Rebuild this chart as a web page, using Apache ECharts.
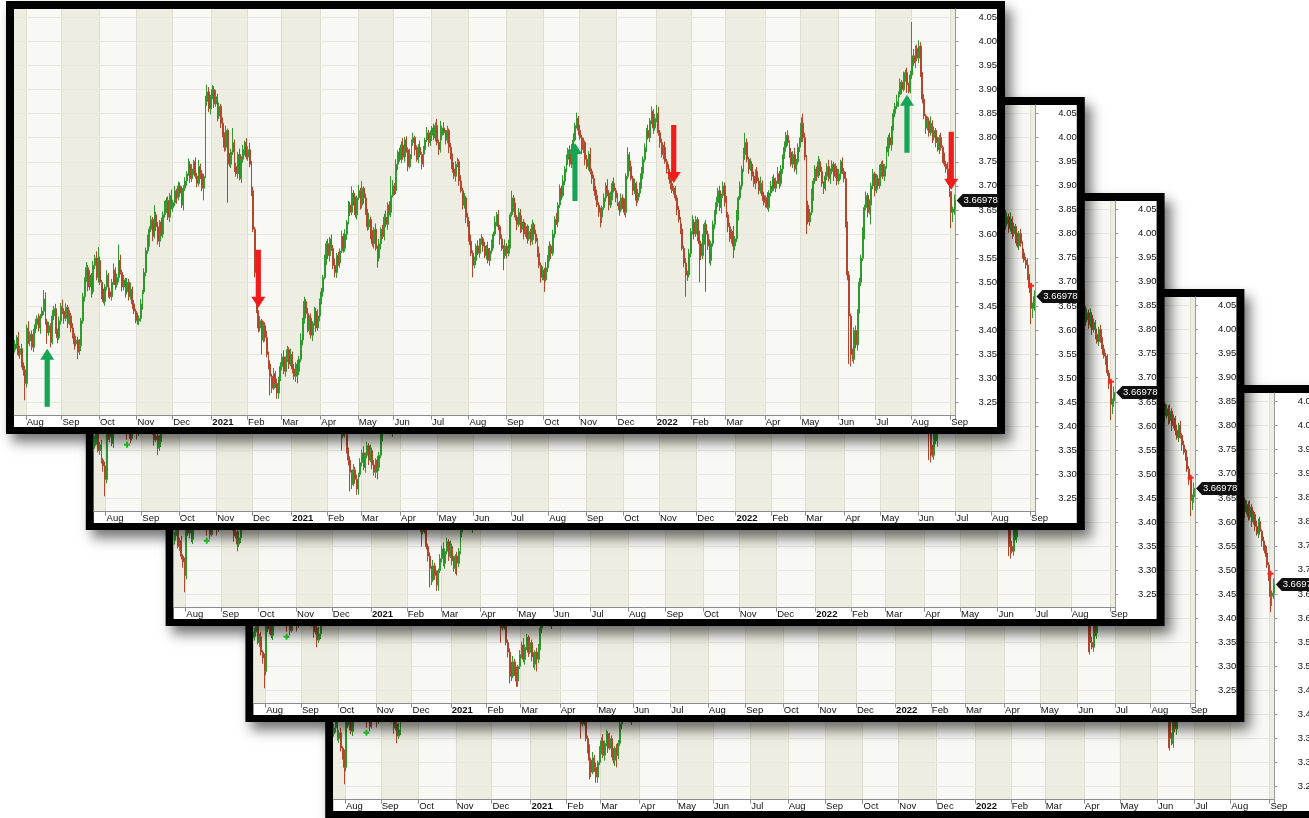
<!DOCTYPE html>
<html><head><meta charset="utf-8">
<script src="https://cdn.jsdelivr.net/npm/echarts@6/dist/echarts.min.js"></script>
<style>html,body{margin:0;padding:0;background:#fff;}#c{width:1309px;height:818px;}</style>
</head><body><div id="c"></div>
<script>
// ---------- DATA ----------
const months = ['2020-07','2020-08','2020-09','2020-10','2020-11','2020-12','2021-01','2021-02','2021-03','2021-04','2021-05','2021-06','2021-07','2021-08','2021-09','2021-10','2021-11','2021-12','2022-01','2022-02','2022-03','2022-04','2022-05','2022-06','2022-07','2022-08','2022-09'];
const monthDays = [7,21,22,22,21,23,21,20,23,22,21,22,22,22,22,21,22,23,21,20,23,21,22,22,21,23,3];
const monthLabels = ['Jul','Aug','Sep','Oct','Nov','Dec','2021','Feb','Mar','Apr','May','Jun','Jul','Aug','Sep','Oct','Nov','Dec','2022','Feb','Mar','Apr','May','Jun','Jul','Aug','Sep'];

// prices in thousandths
const opens = [
3360,3372,3385,3350,3362,3330,3318,
3290,3405,3378,3392,3365,3398,3412,3425,3405,3430,3440,3465,3418,3395,3410,3375,3430,3445,3400,3385,3420,
3450,3440,3425,3448,3415,3430,3405,3390,3372,3380,3355,3368,3420,3470,3505,3530,3490,3515,3480,3535,3550,3510,
3545,3500,3475,3460,3490,3515,3480,3470,3500,3525,3495,3510,3545,3520,3490,3505,3480,3500,3470,3485,3455,3440,
3425,3420,3425,3455,3480,3520,3565,3585,3610,3630,3595,3640,3615,3585,3625,3600,3640,3655,3670,3635,3680,
3655,3665,3690,3675,3700,3685,3660,3695,3710,3725,3745,3715,3735,3750,3720,3705,3740,3725,3695,3720,3875,3895,3860,
3885,3900,3870,3885,3845,3865,3830,3805,3780,3815,3760,3745,3770,3790,3740,3725,3765,3715,3755,3775,3790,
3760,3775,3745,3690,3610,3520,3440,3405,3420,3380,3410,3385,3350,3330,3305,3280,3310,3290,3270,3300,
3325,3345,3315,3340,3360,3330,3350,3320,3305,3330,3315,3340,3380,3420,3460,3435,3400,3425,3390,3415,3440,3405,3430,
3460,3480,3510,3545,3580,3555,3590,3570,3535,3520,3555,3540,3565,3595,3570,3600,3625,3660,3645,3685,3670,3640,
3675,3690,3660,3695,3675,3645,3615,3630,3600,3580,3610,3570,3550,3580,3610,3595,3635,3620,3660,3645,3680,
3700,3690,3745,3770,3755,3785,3760,3795,3775,3740,3765,3790,3800,3775,3755,3780,3765,3745,3775,3795,3810,3790,
3805,3820,3800,3825,3790,3775,3805,3820,3810,3795,3815,3780,3760,3735,3720,3745,3750,3710,3690,3660,3675,3635,
3620,3585,3560,3535,3545,3575,3560,3585,3590,3575,3555,3570,3545,3565,3580,3600,3625,3640,3615,3590,3570,3555,
3575,3560,3580,3640,3675,3655,3635,3620,3645,3610,3625,3600,3615,3590,3605,3585,3620,3600,3585,3560,3535,3510,
3525,3505,3530,3550,3575,3560,3600,3630,3625,3660,3695,3680,3710,3735,3755,3775,3745,3780,3795,3825,3840,
3815,3800,3775,3790,3755,3740,3765,3730,3715,3695,3680,3660,3645,3635,3655,3675,3700,3685,3660,3680,3705,3690,
3675,3665,3650,3675,3660,3645,3720,3765,3740,3715,3690,3705,3670,3685,3700,3725,3755,3780,3815,3800,3835,3855,3820,
3840,3850,3810,3790,3765,3780,3750,3735,3720,3705,3690,3695,3675,3650,3630,3610,3570,3540,3520,3515,3560,
3605,3625,3600,3630,3595,3580,3555,3590,3620,3600,3575,3545,3580,3620,3645,3665,3690,3655,3680,3700,
3665,3640,3615,3590,3605,3575,3590,3640,3675,3700,3735,3765,3790,3755,3735,3745,3720,3705,3730,3710,3690,3705,3680,
3665,3675,3655,3685,3700,3715,3695,3710,3725,3705,3735,3760,3780,3805,3790,3770,3745,3765,3735,3750,3780,
3795,3830,3800,3760,3660,3625,3645,3680,3710,3735,3720,3750,3730,3705,3695,3720,3740,3715,3730,3745,3720,3735,
3710,3725,3750,3730,3715,3620,3515,3430,3350,3340,3400,3370,3440,3500,3550,3600,3655,3680,3645,3660,3700,3725,
3690,3715,3700,3730,3745,3720,3740,3770,3800,3785,3820,3850,3865,3875,3890,3915,3900,3925,3935,3910,3895,
3930,3970,3955,3985,3965,3990,3930,3880,3845,3820,3835,3810,3830,3800,3815,3790,3775,3800,3780,3760,3745,3735,3710,
3688,3645,3652
];
const closes = [
3372,3385,3350,3362,3330,3318,3290,
3405,3378,3392,3365,3398,3412,3425,3405,3430,3440,3465,3418,3395,3410,3375,3430,3445,3400,3385,3420,3450,
3440,3425,3448,3415,3430,3405,3390,3372,3380,3355,3368,3420,3470,3505,3530,3490,3515,3480,3535,3550,3510,3545,
3500,3475,3460,3490,3515,3480,3470,3500,3525,3495,3510,3545,3520,3490,3505,3480,3500,3470,3485,3455,3440,3425,
3420,3425,3455,3480,3520,3565,3585,3610,3630,3595,3640,3615,3585,3625,3600,3640,3655,3670,3635,3680,3655,
3665,3690,3675,3700,3685,3660,3695,3710,3725,3745,3715,3735,3750,3720,3705,3740,3725,3695,3720,3875,3895,3860,3885,
3900,3870,3885,3845,3865,3830,3805,3780,3815,3760,3745,3770,3790,3740,3725,3765,3715,3755,3775,3790,3760,
3775,3745,3690,3610,3520,3440,3405,3420,3380,3410,3385,3350,3330,3305,3280,3310,3290,3270,3300,3325,
3345,3315,3340,3360,3330,3350,3320,3305,3330,3315,3340,3380,3420,3460,3435,3400,3425,3390,3415,3440,3405,3430,3460,
3480,3510,3545,3580,3555,3590,3570,3535,3520,3555,3540,3565,3595,3570,3600,3625,3660,3645,3685,3670,3640,3675,
3690,3660,3695,3675,3645,3615,3630,3600,3580,3610,3570,3550,3580,3610,3595,3635,3620,3660,3645,3680,3700,
3690,3745,3770,3755,3785,3760,3795,3775,3740,3765,3790,3800,3775,3755,3780,3765,3745,3775,3795,3810,3790,3805,
3820,3800,3825,3790,3775,3805,3820,3810,3795,3815,3780,3760,3735,3720,3745,3750,3710,3690,3660,3675,3635,3620,
3585,3560,3535,3545,3575,3560,3585,3590,3575,3555,3570,3545,3565,3580,3600,3625,3640,3615,3590,3570,3555,3575,
3560,3580,3640,3675,3655,3635,3620,3645,3610,3625,3600,3615,3590,3605,3585,3620,3600,3585,3560,3535,3510,3525,
3505,3530,3550,3575,3560,3600,3630,3625,3660,3695,3680,3710,3735,3755,3775,3745,3780,3795,3825,3840,3815,
3800,3775,3790,3755,3740,3765,3730,3715,3695,3680,3660,3645,3635,3655,3675,3700,3685,3660,3680,3705,3690,3675,
3665,3650,3675,3660,3645,3720,3765,3740,3715,3690,3705,3670,3685,3700,3725,3755,3780,3815,3800,3835,3855,3820,3840,
3850,3810,3790,3765,3780,3750,3735,3720,3705,3690,3695,3675,3650,3630,3610,3570,3540,3520,3515,3560,3605,
3625,3600,3630,3595,3580,3555,3590,3620,3600,3575,3545,3580,3620,3645,3665,3690,3655,3680,3700,3665,
3640,3615,3590,3605,3575,3590,3640,3675,3700,3735,3765,3790,3755,3735,3745,3720,3705,3730,3710,3690,3705,3680,3665,
3675,3655,3685,3700,3715,3695,3710,3725,3705,3735,3760,3780,3805,3790,3770,3745,3765,3735,3750,3780,3795,
3830,3800,3760,3660,3625,3645,3680,3710,3735,3720,3750,3730,3705,3695,3720,3740,3715,3730,3745,3720,3735,3710,
3725,3750,3730,3715,3620,3515,3430,3350,3340,3400,3370,3440,3500,3550,3600,3655,3680,3645,3660,3700,3725,3690,
3715,3700,3730,3745,3720,3740,3770,3800,3785,3820,3850,3865,3875,3890,3915,3900,3925,3935,3910,3895,3930,
3970,3955,3985,3965,3990,3930,3880,3845,3820,3835,3810,3830,3800,3815,3790,3775,3800,3780,3760,3745,3735,3710,3688,
3645,3652,3669.78
];
const lows = [
3354,3362,3346,3341,3323,3306,3255,
3282,3372,3367,3359,3355,3394,3403,3398,3393,3425,3432,3412,3372,3389,3365,3371,3421,3393,3373,3380,3412,
3434,3414,3419,3405,3411,3396,3383,3360,3367,3340,3349,3357,3414,3460,3501,3481,3483,3468,3475,3527,3504,3499,
3494,3465,3456,3451,3483,3468,3465,3462,3494,3484,3489,3500,3516,3481,3483,3468,3475,3462,3464,3444,3434,3415,
3412,3411,3418,3443,3475,3512,3559,3574,3604,3585,3591,3606,3578,3573,3595,3592,3634,3644,3629,3625,3651,
3646,3658,3663,3670,3677,3654,3649,3689,3700,3721,3706,3708,3723,3715,3697,3699,3714,3689,3670,3716,3866,3853,3848,
3880,3862,3864,3834,3839,3820,3801,3771,3773,3665,3740,3737,3764,3729,3719,3715,3711,3706,3748,3763,3755,
3752,3739,3679,3604,3510,3436,3396,3398,3350,3375,3377,3344,3319,3265,3270,3276,3281,3258,3258,3295,
3317,3309,3304,3334,3320,3326,3311,3298,3293,3290,3307,3334,3369,3414,3425,3396,3391,3383,3378,3410,3397,3399,3419,
3454,3470,3506,3536,3548,3543,3565,3527,3510,3509,3534,3530,3561,3561,3563,3588,3620,3637,3639,3659,3634,3630,
3671,3651,3653,3663,3640,3607,3609,3589,3574,3570,3566,3530,3543,3568,3590,3587,3614,3609,3639,3635,3676,
3681,3683,3733,3750,3747,3754,3749,3769,3730,3736,3756,3783,3763,3750,3747,3759,3734,3739,3765,3791,3781,3783,
3793,3795,3792,3784,3764,3769,3795,3806,3786,3788,3768,3755,3727,3714,3709,3739,3700,3686,3651,3653,3623,3615,
3577,3554,3510,3529,3535,3556,3551,3578,3563,3550,3547,3539,3534,3559,3570,3596,3616,3608,3578,3565,3525,3549,
3549,3554,3570,3636,3646,3628,3608,3615,3602,3604,3589,3594,3580,3586,3576,3578,3588,3580,3552,3529,3499,3504,
3480,3501,3521,3543,3548,3555,3592,3619,3614,3654,3670,3676,3701,3728,3743,3740,3737,3774,3792,3819,3805,
3796,3766,3768,3743,3735,3732,3724,3704,3689,3670,3656,3636,3614,3623,3650,3667,3679,3649,3654,3670,3686,3666,
3658,3638,3645,3652,3639,3634,3714,3730,3711,3681,3683,3658,3665,3677,3694,3714,3749,3770,3796,3791,3828,3808,3815,
3832,3804,3779,3759,3755,3746,3726,3713,3693,3685,3682,3669,3639,3624,3600,3566,3531,3470,3503,3510,3552,
3599,3589,3594,3585,3500,3546,3548,3578,3480,3567,3539,3534,3574,3610,3641,3656,3648,3643,3675,3657,
3634,3604,3584,3580,3550,3566,3583,3628,3670,3692,3729,3754,3749,3725,3731,3711,3698,3693,3705,3682,3684,3669,3659,
3655,3651,3646,3678,3688,3690,3687,3704,3694,3699,3725,3756,3771,3783,3758,3740,3737,3729,3724,3744,3770,
3791,3791,3753,3600,3620,3617,3639,3669,3704,3710,3716,3721,3698,3683,3690,3712,3709,3704,3724,3710,3716,3701,
3703,3713,3725,3707,3614,3504,3330,3325,3336,3331,3363,3358,3435,3492,3544,3589,3649,3635,3641,3620,3693,3678,
3685,3692,3694,3719,3714,3710,3736,3761,3778,3773,3815,3842,3859,3864,3884,3890,3896,3916,3893,3892,3892,
3922,3949,3944,3959,3955,3926,3871,3838,3808,3815,3802,3804,3789,3794,3780,3771,3766,3773,3748,3740,3727,3704,3677,
3612,3625,3640
];
const highs = [
3380,3390,3397,3368,3372,3334,3327,
3412,3419,3398,3400,3403,3424,3431,3435,3434,3449,3484,3479,3424,3418,3415,3442,3451,3455,3404,3429,3457,
3464,3446,3456,3453,3442,3436,3415,3394,3389,3387,3382,3426,3478,3510,3542,3536,3525,3519,3544,3557,3564,3573,
3553,3505,3487,3496,3525,3519,3489,3507,3539,3531,3518,3578,3557,3526,3515,3509,3509,3507,3499,3491,3463,3445,
3437,3431,3465,3484,3529,3572,3599,3616,3638,3635,3660,3646,3625,3629,3634,3647,3669,3676,3678,3685,3692,
3671,3700,3694,3709,3707,3699,3701,3718,3730,3757,3751,3745,3754,3759,3727,3754,3746,3733,3725,3887,3910,3905,3889,
3909,3907,3899,3891,3873,3870,3842,3811,3825,3819,3769,3777,3820,3796,3748,3770,3777,3761,3785,3794,3799,
3782,3789,3751,3698,3615,3532,3442,3430,3424,3419,3417,3399,3356,3338,3310,3322,3316,3300,3304,3334,
3352,3359,3346,3368,3365,3362,3356,3330,3334,3339,3347,3394,3426,3470,3465,3447,3431,3435,3419,3449,3447,3444,3466,
3488,3515,3557,3586,3590,3594,3599,3577,3549,3561,3563,3570,3607,3601,3610,3629,3669,3667,3699,3691,3678,3680,
3702,3696,3710,3699,3684,3652,3644,3636,3608,3615,3622,3576,3590,3614,3619,3642,3649,3666,3668,3720,3712,
3706,3755,3774,3779,3792,3799,3801,3803,3780,3777,3796,3810,3804,3784,3787,3794,3771,3783,3800,3822,3816,3815,
3824,3829,3832,3839,3796,3835,3825,3832,3816,3825,3819,3789,3767,3749,3751,3758,3755,3722,3696,3685,3679,3644,
3627,3599,3566,3553,3580,3587,3591,3600,3594,3584,3577,3584,3571,3588,3605,3637,3646,3650,3619,3599,3577,3589,
3581,3588,3645,3690,3681,3665,3639,3654,3652,3639,3631,3623,3620,3617,3611,3630,3624,3609,3592,3574,3541,3533,
3530,3542,3556,3585,3579,3609,3637,3644,3666,3703,3700,3722,3741,3765,3779,3784,3787,3809,3831,3852,3845,
3827,3806,3800,3794,3764,3772,3779,3736,3723,3700,3692,3666,3655,3659,3684,3707,3714,3691,3688,3710,3717,3696,
3685,3669,3684,3682,3674,3726,3780,3770,3752,3721,3715,3709,3694,3707,3739,3761,3788,3820,3827,3841,3865,3859,3849,
3868,3864,3816,3798,3785,3792,3756,3745,3724,3714,3700,3700,3681,3658,3635,3622,3576,3550,3524,3569,3612,
3639,3631,3638,3635,3607,3586,3600,3624,3629,3607,3589,3586,3628,3650,3677,3696,3700,3684,3709,3707,
3679,3646,3623,3610,3617,3596,3650,3679,3709,3742,3779,3810,3798,3760,3757,3751,3730,3734,3739,3717,3719,3711,3688,
3680,3687,3691,3710,3719,3724,3717,3739,3731,3743,3765,3792,3812,3815,3794,3779,3772,3779,3756,3788,3800,
3842,3850,3810,3764,3669,3652,3694,3716,3743,3740,3762,3756,3740,3709,3729,3747,3754,3736,3753,3750,3747,3741,
3735,3754,3759,3737,3729,3626,3523,3435,3362,3406,3410,3444,3509,3557,3614,3661,3688,3685,3672,3706,3735,3729,
3724,3722,3744,3751,3753,3745,3782,3806,3810,3824,3859,3872,3889,3896,3923,3920,3937,3941,3945,3914,3939,
4040,3984,3991,3993,4002,3998,3936,3890,3849,3844,3842,3844,3836,3823,3820,3802,3806,3810,3784,3769,3752,3749,3716,
3689,3657,3682
];
const yTicks = [3.25,3.30,3.35,3.40,3.45,3.50,3.55,3.60,3.65,3.70,3.75,3.80,3.85,3.90,3.95,4.00,4.05];
const yMin = 3.223, yMax = 4.067;
const lastPrice = 3.66978;
const signalIdx = [19, 143, 329, 387, 524, 550];
const signalVal = [3.362, 3.447, 3.789, 3.706, 3.889, 3.692];
const signalDir = ['up', 'down', 'up', 'down', 'up', 'down'];

// ---------- BUILD ----------
const categories = [];
const monthStartLabel = {};
months.forEach((m, mi) => {
  for (let d = 1; d <= monthDays[mi]; d++) {
    if (d === 1 && mi > 0) monthStartLabel[categories.length] = monthLabels[mi];
    categories.push(m + '-' + (d < 10 ? '0' + d : d));
  }
});
const isMonthStart = (idx) => monthStartLabel[idx] !== undefined;
const candleData = categories.map((c, i) => [opens[i] / 1000, closes[i] / 1000, lows[i] / 1000, highs[i] / 1000]);
const lastIdx = categories.length - 1;

const FONT = '"Liberation Sans", Arial, sans-serif';
const ARROW_UP = 'path://M7 0 L14 11 L9.6 11 L9.6 58 L4.4 58 L4.4 11 L0 11 Z';
const ARROW_DOWN = 'path://M4.4 0 L9.6 0 L9.6 47 L14 47 L7 58 L0 47 L4.4 47 Z';
const PLUS = 'path://M2 0 L4 0 L4 2 L6 2 L6 4 L4 4 L4 6 L2 6 L2 4 L0 4 L0 2 L2 2 Z';
const TAG = 'path://M0 6.5 L6 0 L42 0 L42 13 L6 13 Z';

const NP = 5, DX = 79.8, DY = 96;
const grids = [], xAxes = [], yAxes = [], series = [], graphics = [];
let g = 0;
for (let k = NP - 1; k >= 0; k--) {
  const zl = NP - k;
  const dx = k * DX, dy = k * DY;
  graphics.push({type: 'rect', zlevel: zl, z: -10, silent: true,
    shape: {x: 6 + dx, y: 1 + dy, width: 999, height: 433},
    style: {fill: '#000', shadowBlur: 12, shadowOffsetX: 6, shadowOffsetY: 8, shadowColor: 'rgba(0,0,0,0.55)'}});
  graphics.push({type: 'rect', zlevel: zl, z: -9, silent: true,
    shape: {x: 14 + dx, y: 9 + dy, width: 983, height: 418}, style: {fill: '#fff'}});
  grids.push({left: 14 + dx, top: 9 + dy, width: 941.5, height: 406.7, outerBoundsMode: 'none', containLabel: false});
  xAxes.push({
    type: 'category', gridIndex: g, data: categories, boundaryGap: true, zlevel: zl, z: 0,
    axisLine: {show: true, lineStyle: {color: '#8c8c8c', width: 1}},
    axisTick: {show: true, interval: isMonthStart, length: 4, lineStyle: {color: '#8c8c8c'}},
    axisLabel: {show: true, interval: isMonthStart, margin: 2, align: 'left', fontSize: 9.5, fontFamily: FONT, color: '#111',
      formatter: (v, i) => { const t = monthStartLabel[i] || ''; return /^\d{4}$/.test(t) ? '{b|' + t + '}' : t; },
      rich: {b: {fontWeight: 'bold', fontSize: 9.5, fontFamily: FONT, color: '#111'}}},
    splitLine: {show: true, interval: isMonthStart, lineStyle: {color: '#deddd1', width: 1}},
    splitArea: {show: true, interval: isMonthStart, areaStyle: {color: ['#eeede1', '#f8f8f4']}}
  });
  yAxes.push({
    type: 'value', gridIndex: g, position: 'right', min: yMin, max: yMax, zlevel: zl, z: 1,
    axisLine: {show: true, lineStyle: {color: '#9a9a9a', width: 1}},
    axisTick: {show: true, customValues: yTicks, length: 3, lineStyle: {color: '#9a9a9a'}},
    axisLabel: {show: true, customValues: yTicks, margin: 23, fontSize: 9.5, fontFamily: FONT, color: '#111',
      formatter: (v) => v.toFixed(2)},
    splitLine: {show: true, lineStyle: {color: '#e6e6de', width: 1}},
    splitArea: {show: false}
  });
  const markData = [];
  signalIdx.forEach((si, j) => {
    const up = signalDir[j] === 'up';
    if (k === 0) {
      markData.push({coord: [categories[si], signalVal[j]], symbol: up ? ARROW_UP : ARROW_DOWN,
        symbolSize: [14, 58], symbolOffset: [0, up ? '50%' : '-50%'],
        itemStyle: {color: up ? '#15a554' : '#f01c1c'}});
    } else {
      markData.push({coord: [categories[si], signalVal[j]], symbol: PLUS, symbolSize: 6,
        itemStyle: {color: up ? '#22e022' : '#ff2020'}});
    }
  });
  markData.push({coord: [categories[lastIdx], lastPrice], symbol: TAG, symbolSize: [42, 13], symbolOffset: [23, 0],
    itemStyle: {color: '#111'},
    label: {show: true, position: 'inside', formatter: lastPrice.toFixed(5), color: '#fff', fontSize: 9.5, fontFamily: FONT, offset: [3, 0]}});
  series.push({
    type: 'candlestick', xAxisIndex: g, yAxisIndex: g, zlevel: zl, z: 2,
    data: candleData, barWidth: 1.4,
    itemStyle: {color: '#2e9a2e', color0: '#b3462c', borderColor: '#2e9a2e', borderColor0: '#b3462c', borderWidth: 1},
    markPoint: {data: markData, zlevel: zl, z: 6, silent: true, animation: false, label: {show: false}},
    animation: false
  });
  g++;
}

const chart = echarts.init(document.getElementById('c'), null, {renderer: 'canvas'});
chart.setOption({
  backgroundColor: '#ffffff',
  animation: false,
  grid: grids, xAxis: xAxes, yAxis: yAxes, series: series,
  graphic: {elements: graphics}
});
</script>
</body></html>
